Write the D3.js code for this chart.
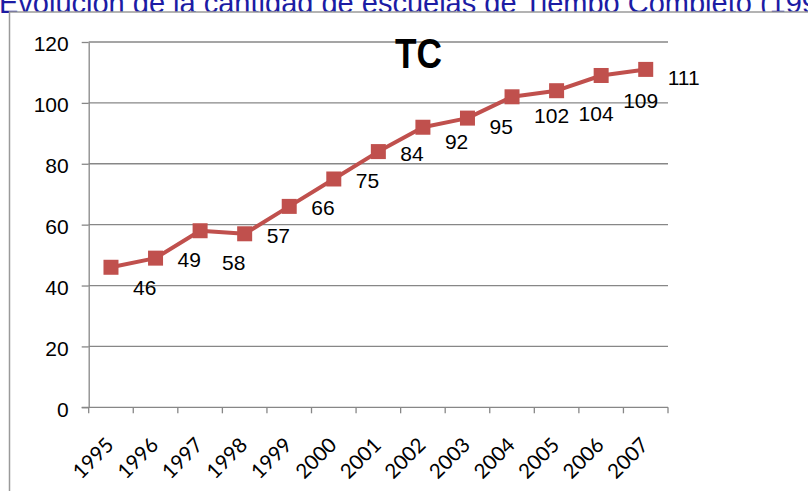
<!DOCTYPE html>
<html>
<head>
<meta charset="utf-8">
<script src="https://cdn.jsdelivr.net/npm/d3@7/dist/d3.min.js"></script>
<style>
  html, body { margin: 0; padding: 0; background: #fff; overflow: hidden; }
  svg { display: block; }
</style>
</head>
<body>
<svg id="chart" width="808" height="491"></svg>
<script>
// Full-time schools per year
const years = ['1995', '1996', '1997', '1998', '1999', '2000', '2001', '2002', '2003', '2004', '2005', '2006', '2007'];
const schools = [46, 49, 58, 57, 66, 75, 84, 92, 95, 102, 104, 109, 111];
const yTicks = [0, 20, 40, 60, 80, 100, 120];
const pageTitle = 'Evolución de la cantidad de escuelas de Tiempo Completo (1995-2007)';
const seriesTitle = 'TC';

// Vertical nudges (px) so value labels don't collide with the line
const labelNudge = [19, 0, 30, 0, 0, 0, 0, 13, 7, 17, 21, 24, 7];

const svg = d3.select('#chart');
const red = '#C0504D';
const grid = '#878787';

// Slide heading (partly hidden behind the chart frame)
svg.append('text')
  .attr('x', -1).attr('y', 12.5)
  .attr('font-family', 'Liberation Sans, Arial, sans-serif')
  .attr('font-size', 29)
  .attr('fill', '#1c1ca4')
  .text(pageTitle);

// Chart frame
svg.append('rect')
  .attr('x', 9.5).attr('y', 12).attr('width', 1000).attr('height', 600)
  .attr('fill', '#fff').attr('stroke', '#9a9a9a').attr('stroke-width', 1.5);

const x = d3.scaleBand().domain(years).range([88.7, 668]);
const y = d3.scaleLinear().domain([0, 120]).range([407.3, 42]);
const cx = d => x(d) + x.bandwidth() / 2;

// Horizontal gridlines
svg.append('g').selectAll('line').data(yTicks.filter(t => t > 0)).join('line')
  .attr('x1', x.range()[0]).attr('x2', x.range()[1])
  .attr('y1', d => y(d)).attr('y2', d => y(d))
  .attr('stroke', grid).attr('stroke-width', 1.3);

// Y axis
const yAxis = svg.append('g')
  .attr('transform', `translate(${x.range()[0]},0)`)
  .call(d3.axisLeft(y).tickValues(yTicks).tickSize(7).tickSizeOuter(0).tickPadding(13));
yAxis.select('.domain').attr('stroke', grid).attr('stroke-width', 1.3);
yAxis.selectAll('.tick line').attr('stroke', grid).attr('stroke-width', 1.3);
yAxis.selectAll('.tick text')
  .attr('font-family', 'Liberation Sans, Arial, sans-serif')
  .attr('font-size', 21).attr('fill', '#000').attr('dy', '0.42em');

// X axis line with ticks on category boundaries
const edges = years.map(d => x(d)).concat([x.range()[1]]);
const xAxis = svg.append('g');
xAxis.append('line')
  .attr('x1', x.range()[0] - 7).attr('x2', x.range()[1])
  .attr('y1', y(0)).attr('y2', y(0))
  .attr('stroke', grid).attr('stroke-width', 1.3);
xAxis.selectAll('line.tk').data(edges).join('line').attr('class', 'tk')
  .attr('x1', d => d).attr('x2', d => d)
  .attr('y1', y(0)).attr('y2', y(0) + 6)
  .attr('stroke', grid).attr('stroke-width', 1.3);
xAxis.selectAll('text').data(years).join('text')
  .attr('transform', d => `translate(${cx(d) + 4},${y(0) + 39}) rotate(-45)`)
  .attr('text-anchor', 'end')
  .attr('font-family', 'Lato, sans-serif')
  .attr('font-size', 20.5).attr('fill', '#000')
  .text(d => d);

// Series line
const line = d3.line().x((d, i) => cx(years[i])).y(d => y(d));
svg.append('path').datum(schools)
  .attr('d', line)
  .attr('fill', 'none').attr('stroke', red).attr('stroke-width', 4)
  .attr('stroke-linejoin', 'round');

// Square markers
const m = 15;
svg.append('g').selectAll('rect').data(schools).join('rect')
  .attr('x', (d, i) => cx(years[i]) - m / 2)
  .attr('y', d => y(d) - m / 2)
  .attr('width', m).attr('height', m)
  .attr('fill', red);

// Value labels
svg.append('g').selectAll('text').data(schools).join('text')
  .attr('x', (d, i) => cx(years[i]) + 22)
  .attr('y', (d, i) => y(d) + 1.5 + labelNudge[i] + 7.5)
  .attr('font-family', 'Liberation Sans, Arial, sans-serif')
  .attr('font-size', 21).attr('fill', '#000')
  .text(d => d);

// Series title
svg.append('text')
  .attr('x', 395).attr('y', 68)
  .attr('textLength', 47).attr('lengthAdjust', 'spacingAndGlyphs')
  .attr('font-family', 'Liberation Sans, Arial, sans-serif')
  .attr('font-weight', 'bold').attr('font-size', 42).attr('fill', '#000')
  .text(seriesTitle);
</script>
</body>
</html>
